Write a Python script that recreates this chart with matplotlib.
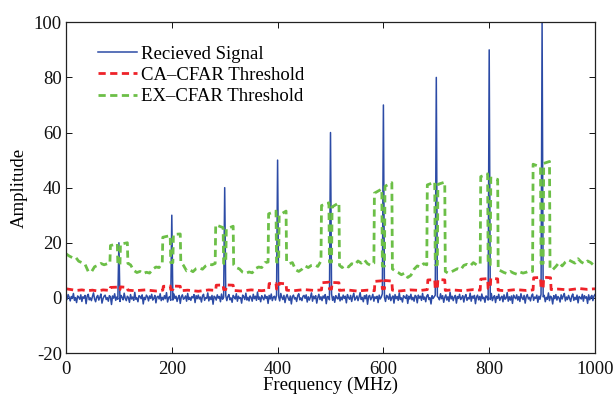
import numpy as np
import matplotlib
matplotlib.use("Agg")
import matplotlib.pyplot as plt

plt.rcParams["font.family"] = ["Liberation Serif", "DejaVu Serif"]
plt.rcParams["axes.unicode_minus"] = False

# Frequency grid of the received spectrum (MHz)
freq_step = 2
freq = np.arange(0, 1000 + freq_step, freq_step)

# Noise floor of the received signal, one value per grid point
noise_floor = [
    0.8, -0.6, 1.2, 0.3, -1.1, 0.5, -0.2, 1.6, -0.9, 0.1, -1.7, 0.7, 0.2, -0.5, 1.1, -1.3, 0.4, -0.1, 0.9, -2.1, 0.6, 1.3, -0.7, 0.0, -1.0,
    0.5, 1.8, -0.4, -1.4, 0.3, 0.9, -0.8, 0.2, 1.4, -1.9, -0.3, 0.6, 1.0, -0.6, 0.1, -1.2, 0.8, 0.4, -2.4, 0.7, -0.1, 1.5, -0.9, 0.3, -0.5,
    0.4, -1.3, 0.9, 0.2, -0.7, 1.7, -0.2, -1.0, 0.6, 0.1, -1.6, 1.2, -0.4, 0.3, -0.9, 2.0, -0.5, 0.0, -1.4, 0.8, 0.5, -0.3, 1.1, -2.2, 0.2,
    -0.6, 1.0, 0.4, -1.1, 0.7, -0.2, 1.3, -0.8, -0.1, 0.9, -1.8, 0.3, 0.6, -0.4, 1.5, -1.0, 0.2, -0.7, 0.8, -0.3, 1.9, -1.5, 0.1, 0.5, -0.9,
    0.3, -0.8, 1.4, -0.2, 0.6, -1.3, 0.1, 0.9, -2.0, 0.4, 1.1, -0.5, -0.1, 0.7, -1.2, 1.6, -0.6, 0.2, -0.9, 0.5, 0.0, 1.2, -1.7, 0.8, -0.3,
    1.0, -0.4, 0.3, -1.5, 0.7, 1.3, -0.9, 0.1, -0.2, 1.8, -1.1, 0.4, -0.6, 0.9, -2.3, 0.6, 0.2, -0.8, 1.1, -0.1, 0.5, -1.4, 1.4, -0.5, 0.2,
    -0.3, 0.8, -1.0, 0.5, 1.2, -0.7, 0.0, -1.6, 0.9, 0.3, -0.4, 1.5, -1.2, 0.6, -0.2, 0.1, -1.9, 1.0, 0.4, -0.6, 1.7, -0.8, 0.2, -1.1, 0.7,
    0.1, -1.2, 1.3, -0.3, 0.6, -0.9, 2.1, -0.5, 0.3, -1.4, 0.8, 0.0, -0.7, 1.1, -0.2, 0.5, -2.0, 0.9, -0.4, 1.4, -1.0, 0.2, 0.6, -0.8, 1.0,
    -0.5, 0.4, -1.1, 1.6, 0.2, -0.6, 0.9, -1.7, 0.3, 1.2, -0.1, -0.9, 0.7, -2.2, 0.5, 1.0, -0.4, 0.1, -1.3, 0.8, 1.5, -0.7, 0.0, -1.0, 0.6,
    0.9, -0.2, 1.1, -1.5, 0.4, -0.8, 0.2, 1.8, -1.2, 0.6, -0.3, 0.8, -1.9, 0.1, 1.3, -0.6, 0.4, -1.0, 0.7, -0.1, 1.2, -2.1, 0.5, 0.3, -0.7,
    0.2, 1.4, -0.9, 0.5, -1.6, 0.8, 0.0, -0.4, 1.6, -1.1, 0.3, -0.7, 1.0, -0.2, 0.6, -1.8, 1.2, 0.1, -0.5, 0.9, -1.3, 0.4, 1.7, -0.8, -0.1,
    0.7, -1.0, 0.3, 1.9, -0.6, 0.2, -1.4, 0.8, -0.3, 1.1, -2.3, 0.5, 0.9, -0.7, 0.1, 1.3, -1.2, 0.4, -0.2, 0.6, -1.7, 1.0, -0.4, 0.3, 1.5,
    -0.8, 0.2, -1.3, 0.9, 0.4, -0.5, 1.4, -1.0, 0.1, 0.7, -1.9, 1.2, -0.3, 0.5, -0.9, 1.8, -0.6, 0.0, -1.5, 0.8, 0.3, -0.2, 1.1, -2.0, 0.6,
    -0.4, 1.3, -0.7, 0.2, -1.2, 0.9, 0.5, -1.8, 1.0, -0.1, 0.6, -0.9, 1.6, -0.5, 0.3, -1.4, 0.7, 1.2, -0.6, 0.1, -2.2, 0.8, -0.2, 0.4, 1.0,
    -1.1, 0.5, 0.1, -0.7, 1.5, -0.3, 0.8, -1.6, 0.2, 1.1, -0.8, 0.4, -1.3, 2.0, -0.4, 0.6, -1.0, 0.3, 0.9, -1.9, 0.5, -0.2, 1.3, -0.6, 0.0,
    0.8, -1.5, 0.4, 1.2, -0.9, 0.1, -0.4, 1.7, -1.2, 0.6, -0.1, 0.9, -2.1, 0.3, 1.0, -0.7, 0.5, -1.1, 1.4, -0.3, 0.2, -1.6, 0.7, 0.4, -0.8,
    0.3, -0.6, 1.6, -1.0, 0.2, 0.8, -1.7, 0.5, -0.2, 1.3, -0.9, 0.1, 0.6, -1.4, 1.1, -0.5, -0.1, 1.9, -1.2, 0.4, -0.8, 0.7, -2.0, 1.0, 0.2,
    -0.3, 1.1, -0.8, 0.5, -1.3, 1.5, 0.0, -0.6, 0.9, -1.9, 0.4, 1.2, -0.4, 0.2, -1.1, 0.7, 1.4, -0.9, 0.3, -0.2, 1.0, -1.6, 0.6, -0.5, 1.3,
    -0.7, 0.4, 0.9, -1.4, 0.2, -0.5, 1.8, -1.0, 0.6, 0.1, -2.2, 0.8, -0.3, 1.2, -0.8, 0.5, 0.0, -1.5, 1.1, -0.4, 0.7, 1.6, -1.1, 0.3, -0.6,
    0.9, -0.2, -1.3, 0.6, 1.4, -0.9, 0.2, -0.6, 1.0, -1.8, 0.5, 0.1, -0.4, 1.3, -1.2, 0.8, -0.1, 0.4, -2.0, 1.1, -0.7, 0.3, 0.9, -1.0, 0.6,
    1.2,
]

# Target tones
tone_freq = [100, 200, 300, 400, 500, 600, 700, 800, 900]
tone_amp = [20, 30, 40, 50, 60, 70, 80, 90, 100]

# CA-CFAR threshold (vertices of the piecewise curve)
ca_freq = [0, 10, 20, 30, 40, 50, 60, 70, 83,
           84, 97, 98, 102, 103, 116, 117, 130, 150, 170, 183,
           184, 197, 198, 202, 203, 216, 217, 230, 250, 270, 283,
           284, 297, 298, 302, 303, 316, 317, 330, 350, 370, 383,
           384, 397, 398, 402, 403, 416, 417, 430, 450, 470, 483,
           484, 497, 498, 502, 503, 516, 517, 530, 550, 570, 583,
           584, 597, 598, 602, 603, 616, 617, 630, 650, 670, 683,
           684, 697, 698, 702, 703, 716, 717, 730, 750, 770, 783,
           784, 797, 798, 802, 803, 816, 817, 830, 850, 870, 883,
           884, 897, 898, 902, 903, 916, 917, 930, 950, 970, 985, 1000]
ca_level = [3.3, 3.0, 2.7, 2.9, 2.6, 2.8, 2.5, 2.9, 2.7,
            3.8, 3.9, 3.0, 3.0, 4.0, 3.8, 2.8, 2.6, 2.9, 2.5, 2.8,
            4.2, 4.3, 3.0, 3.0, 4.3, 4.2, 2.6, 2.8, 2.4, 2.9, 2.7,
            4.6, 4.7, 3.0, 3.0, 4.7, 4.6, 2.7, 2.5, 2.9, 2.6, 2.9,
            5.2, 5.2, 3.2, 3.2, 5.3, 5.1, 2.8, 2.6, 3.0, 2.7, 2.9,
            5.5, 5.7, 3.2, 3.2, 5.6, 5.5, 2.7, 2.9, 2.5, 2.8, 2.6,
            6.0, 6.2, 3.3, 3.3, 6.3, 6.1, 2.8, 2.5, 2.9, 2.7, 3.0,
            6.5, 6.6, 3.3, 3.3, 6.7, 6.5, 2.7, 2.9, 2.6, 3.0, 2.8,
            6.8, 7.0, 3.4, 3.4, 7.1, 6.9, 2.8, 2.6, 3.0, 2.7, 2.9,
            7.3, 7.4, 3.5, 3.5, 7.5, 7.3, 3.0, 3.2, 2.9, 3.4, 3.1, 3.3]

# EX-CFAR threshold (vertices of the piecewise curve)
ex_freq = [0, 6, 12, 18, 24, 30, 36, 42, 48, 54, 60, 66, 72, 78, 83,
           84, 97, 98, 102, 103, 116, 117,
           122, 128, 134, 140, 146, 152, 158, 164, 170, 176, 182,
           183, 197, 198, 202, 203, 216, 217,
           222, 228, 234, 240, 246, 252, 258, 264, 270, 276, 282,
           283, 297, 298, 302, 303, 316, 317,
           322, 328, 334, 340, 346, 352, 358, 364, 370, 376, 382,
           383, 397, 398, 402, 403, 416, 417,
           422, 428, 434, 440, 446, 452, 458, 464, 470, 476, 482,
           483, 497, 498, 502, 503, 516, 517,
           522, 528, 534, 540, 546, 552, 558, 564, 570, 576, 582,
           583, 597, 598, 602, 603, 616, 617,
           622, 628, 634, 640, 646, 652, 658, 664, 670, 676, 682,
           683, 697, 698, 702, 703, 716, 717,
           722, 728, 734, 740, 746, 752, 758, 764, 770, 776, 783,
           784, 797, 798, 802, 803, 816, 817,
           822, 828, 834, 840, 846, 852, 858, 864, 870, 876, 882,
           883, 897, 898, 902, 903, 914, 915,
           920, 926, 932, 938, 944, 950, 956, 962, 968, 974, 980, 986, 992, 1000]
ex_level = [16.0, 15.2, 14.6, 14.8, 13.3, 12.8, 12.2, 9.6, 9.4, 11.3, 11.8, 12.5, 12.0, 12.4, 12.6,
            19.0, 19.6, 12.0, 12.0, 19.5, 20.0, 12.5,
            12.0, 10.0, 9.2, 9.6, 8.8, 9.3, 9.0, 10.4, 11.2, 11.0, 12.8,
            22.0, 22.6, 12.8, 12.8, 23.0, 23.2, 13.0,
            11.8, 9.8, 10.2, 9.5, 10.6, 10.9, 10.4, 11.6, 12.2, 12.0, 12.5,
            26.5, 25.5, 12.5, 12.5, 25.0, 26.0, 12.0,
            11.0, 10.5, 9.3, 8.9, 9.4, 9.1, 10.6, 11.2, 11.0, 12.8, 13.0,
            30.5, 31.5, 13.0, 13.0, 30.0, 31.5, 13.2,
            12.4, 12.8, 10.2, 9.6, 10.4, 11.6, 11.0, 11.8, 12.0, 11.4, 13.4,
            33.5, 34.5, 13.0, 13.0, 33.0, 34.5, 11.8,
            11.0, 11.8, 11.2, 12.4, 12.0, 13.4, 12.6, 13.8, 12.4, 11.8, 12.6,
            38.0, 39.5, 11.5, 11.5, 40.5, 41.8, 10.5,
            9.8, 9.2, 8.4, 9.0, 7.4, 8.2, 10.4, 11.6, 11.2, 12.4, 12.0,
            41.0, 42.0, 12.0, 12.0, 41.2, 42.0, 9.6,
            9.0, 9.4, 10.0, 10.6, 10.2, 11.8, 12.2, 11.6, 12.8, 12.0, 12.2,
            44.0, 45.0, 12.0, 12.0, 43.5, 43.0, 10.2,
            9.8, 9.2, 8.8, 9.6, 9.0, 8.6, 9.4, 9.0, 9.3, 9.8, 9.6,
            48.5, 47.5, 12.5, 12.5, 48.8, 49.5, 10.5,
            10.2, 11.4, 12.8, 11.6, 13.0, 13.8, 13.2, 12.6, 14.2, 13.0, 12.4, 13.4, 12.8, 11.4]

x_ticks = [0, 200, 400, 600, 800, 1000]
y_ticks = [-20, 0, 20, 40, 60, 80, 100]

# Received signal = noise floor with the tones on top
signal = np.array(noise_floor, dtype=float)
signal[np.searchsorted(freq, tone_freq)] = tone_amp

fig = plt.figure(figsize=(6.14, 4.09), dpi=100)
ax = fig.add_axes([66 / 614, 1 - 353 / 409, (595 - 66) / 614, (353 - 22.3) / 409])

ax.plot(freq, signal, color="#2c4ba6", lw=1.1, label="Recieved Signal")
ax.plot(ca_freq, ca_level, color="#ee2229", lw=2.0, dashes=(2.6, 1.6),
        label="CA\u2013CFAR Threshold")
ax.plot(ex_freq, ex_level, color="#6cbf47", lw=2.0, dashes=(2.6, 1.6),
        label="EX\u2013CFAR Threshold")

ax.set_xlim(0, 1000)
ax.set_ylim(-20, 100)
ax.set_xticks(x_ticks)
ax.set_yticks(y_ticks)
ax.tick_params(direction="in", top=True, right=True, length=4, width=0.7,
               labelsize=13.5, colors="#111111")
ax.tick_params(axis="x", pad=6)
ax.tick_params(axis="y", pad=3)
for s in ax.spines.values():
    s.set_linewidth(0.9)
    s.set_color("#222222")

ax.set_xlabel("Frequency (MHz)", fontsize=13.5, labelpad=-1)
ax.set_ylabel("Amplitude", fontsize=13.5, labelpad=4)

ax.legend(loc="upper left", bbox_to_anchor=(0.06, 0.93), frameon=False,
          fontsize=13.5, handlelength=2.1, handletextpad=0.2,
          labelspacing=0.22, borderpad=0, borderaxespad=0)

fig.savefig("out.png", dpi=100)
